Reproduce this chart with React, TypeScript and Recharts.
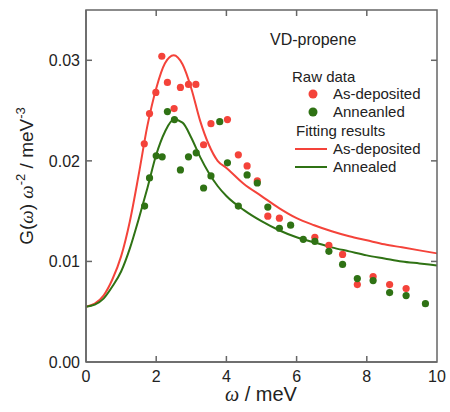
import { ComposedChart, Line, Scatter, XAxis, YAxis } from "recharts"

// raw data, As-deposited
const depOmega = [1.66, 1.81, 1.99, 2.16, 2.32, 2.51, 2.69, 2.92, 3.13, 3.35, 3.56, 4.03, 4.34, 4.59, 4.88, 5.18, 5.51, 6.52, 6.92, 7.31, 7.73, 8.18, 8.65, 9.12]
const depG = [0.0217, 0.0247, 0.0268, 0.0304, 0.0278, 0.0252, 0.0273, 0.0276, 0.0276, 0.0216, 0.0237, 0.0241, 0.0206, 0.0195, 0.018, 0.0145, 0.0143, 0.0124, 0.0116, 0.0107, 0.0077, 0.0085, 0.0077, 0.0073]

// raw data, Annealed
const annOmega = [1.67, 1.81, 2.0, 2.17, 2.32, 2.52, 2.69, 2.92, 3.14, 3.35, 3.56, 3.81, 4.03, 4.34, 4.59, 4.88, 5.18, 5.51, 5.83, 6.19, 6.52, 6.92, 7.31, 7.73, 8.18, 8.65, 9.12, 9.67]
const annG = [0.0155, 0.0183, 0.0205, 0.0204, 0.0249, 0.0241, 0.0191, 0.0204, 0.0208, 0.0173, 0.0185, 0.0239, 0.0198, 0.0155, 0.0186, 0.0178, 0.0154, 0.0133, 0.0136, 0.0122, 0.012, 0.011, 0.0097, 0.0083, 0.0081, 0.0069, 0.0066, 0.0058]

// fitting results
const fitOmega = [0, 0.25, 0.5, 0.75, 1, 1.25, 1.5, 1.75, 2, 2.25, 2.5, 2.75, 3, 3.25, 3.5, 3.75, 4, 4.5, 5, 5.5, 6, 6.5, 7, 7.5, 8, 8.5, 9, 9.5, 10]
const fitDep = [0.0055, 0.0058, 0.0066, 0.0082, 0.0105, 0.014, 0.0186, 0.0235, 0.0272, 0.0297, 0.0305, 0.0296, 0.0272, 0.024, 0.0216, 0.02, 0.0193, 0.0177, 0.0165, 0.0153, 0.0143, 0.0136, 0.013, 0.0125, 0.0121, 0.0117, 0.0114, 0.0111, 0.0108]
const fitAnn = [0.0055, 0.0057, 0.0063, 0.0075, 0.009, 0.0113, 0.0142, 0.0173, 0.0206, 0.0229, 0.0241, 0.0238, 0.0223, 0.0204, 0.0188, 0.0175, 0.0165, 0.0151, 0.014, 0.0131, 0.0124, 0.0119, 0.0114, 0.011, 0.0106, 0.0103, 0.01, 0.0098, 0.0096]

const xTicks = [0, 2, 4, 6, 8, 10]
const yTicks = [0, 0.01, 0.02, 0.03]
const xMax = 10
const yMax = 0.035

const RED = "#f4433a"
const GREEN = "#2f7214"
const AXIS = "#666666"
const FONT = "'Liberation Sans', Arial, sans-serif"

// layout
const W = 450
const H = 412
const margin = { top: 10, right: 13, left: 0, bottom: 0 }
const yAxisW = 86
const xAxisH = 50
const plotL = margin.left + yAxisW
const plotR = W - margin.right
const plotT = margin.top
const plotB = H - margin.bottom - xAxisH

const depPoints = depOmega.map((w, i) => ({ w, g: depG[i] }))
const annPoints = annOmega.map((w, i) => ({ w, g: annG[i] }))
const depFit = fitOmega.map((w, i) => ({ w, g: fitDep[i] }))
const annFit = fitOmega.map((w, i) => ({ w, g: fitAnn[i] }))

// frame tick positions (same linear mapping as the chart axes)
const TL = 6
const tx = (v: number) => plotL + (v / xMax) * (plotR - plotL)
const ty = (v: number) => plotB - (v / yMax) * (plotB - plotT)

const labelTick = { fill: "#222", fontSize: 16, fontFamily: FONT }
const dot = (color: string) => (p: any) => <circle cx={p.cx} cy={p.cy} r={3.6} fill={color} />

export default function App() {
  return (
    <div style={{ position: "absolute", left: 0, top: 0, width: W, height: H, fontFamily: FONT }}>
      <ComposedChart width={W} height={H} margin={margin}>
        <XAxis
          type="number"
          dataKey="w"
          domain={[0, xMax]}
          ticks={xTicks}
          interval={0}
          height={xAxisH}
          tickLine={false}
          tickSize={0}
          tickMargin={9}
          stroke={AXIS}
          strokeWidth={1.5}
          tick={labelTick}
        />
        <YAxis
          type="number"
          domain={[0, yMax]}
          ticks={yTicks}
          interval={0}
          width={yAxisW}
          tickLine={false}
          tickSize={0}
          tickMargin={6}
          stroke={AXIS}
          strokeWidth={1.5}
          tickFormatter={(v: number) => v.toFixed(2)}
          tick={labelTick}
        />
        <Line data={depFit} dataKey="g" type="monotone" stroke={RED} strokeWidth={2} dot={false} isAnimationActive={false} />
        <Line data={annFit} dataKey="g" type="monotone" stroke={GREEN} strokeWidth={2} dot={false} isAnimationActive={false} />
        <Scatter data={depPoints} dataKey="g" shape={dot(RED)} isAnimationActive={false} />
        <Scatter data={annPoints} dataKey="g" shape={dot(GREEN)} isAnimationActive={false} />
      </ComposedChart>
      <svg width={W} height={H} style={{ position: "absolute", left: 0, top: 0, pointerEvents: "none" }} fontFamily={FONT} fill="#222">
        <rect x={plotL} y={plotT} width={plotR - plotL} height={plotB - plotT} fill="none" stroke={AXIS} strokeWidth={1.5} />
        {xTicks.slice(1, -1).map((v) => (
          <g key={"x" + v} stroke={AXIS} strokeWidth={1.5}>
            <line x1={tx(v)} x2={tx(v)} y1={plotB} y2={plotB - TL} />
            <line x1={tx(v)} x2={tx(v)} y1={plotT} y2={plotT + TL} />
          </g>
        ))}
        {yTicks.slice(1).map((v) => (
          <g key={"y" + v} stroke={AXIS} strokeWidth={1.5}>
            <line x1={plotL} x2={plotL + TL} y1={ty(v)} y2={ty(v)} />
            <line x1={plotR} x2={plotR - TL} y1={ty(v)} y2={ty(v)} />
          </g>
        ))}
        <text x={270} y={45} fontSize={16}>VD-propene</text>
        <text x={292} y={82} fontSize={15}>Raw data</text>
        <circle cx={313} cy={94} r={4.5} fill={RED} />
        <text x={333} y={99} fontSize={15}>As-deposited</text>
        <circle cx={313} cy={112} r={4.5} fill={GREEN} />
        <text x={333} y={117} fontSize={15}>Anneanled</text>
        <text x={296} y={136} fontSize={15}>Fitting results</text>
        <line x1={295} x2={327} y1={149} y2={149} stroke={RED} strokeWidth={2} />
        <text x={333} y={154} fontSize={15}>As-deposited</text>
        <line x1={295} x2={327} y1={167} y2={167} stroke={GREEN} strokeWidth={2} />
        <text x={333} y={172} fontSize={15}>Annealed</text>
        <text x={261} y={401} fontSize={20} textAnchor="middle">
          <tspan fontStyle="italic" fontFamily="'Liberation Serif', serif">ω</tspan> / meV
        </text>
        <text transform="translate(33,176) rotate(-90)" fontSize={19} textAnchor="middle">
          G(<tspan fontStyle="italic" fontFamily="'Liberation Serif', serif">ω</tspan>) <tspan fontStyle="italic" fontFamily="'Liberation Serif', serif">ω</tspan>
          <tspan dy={-8} fontSize={13}>-2</tspan>
          <tspan dy={8}> / meV</tspan>
          <tspan dy={-8} fontSize={13}>-3</tspan>
        </text>
      </svg>
    </div>
  )
}
